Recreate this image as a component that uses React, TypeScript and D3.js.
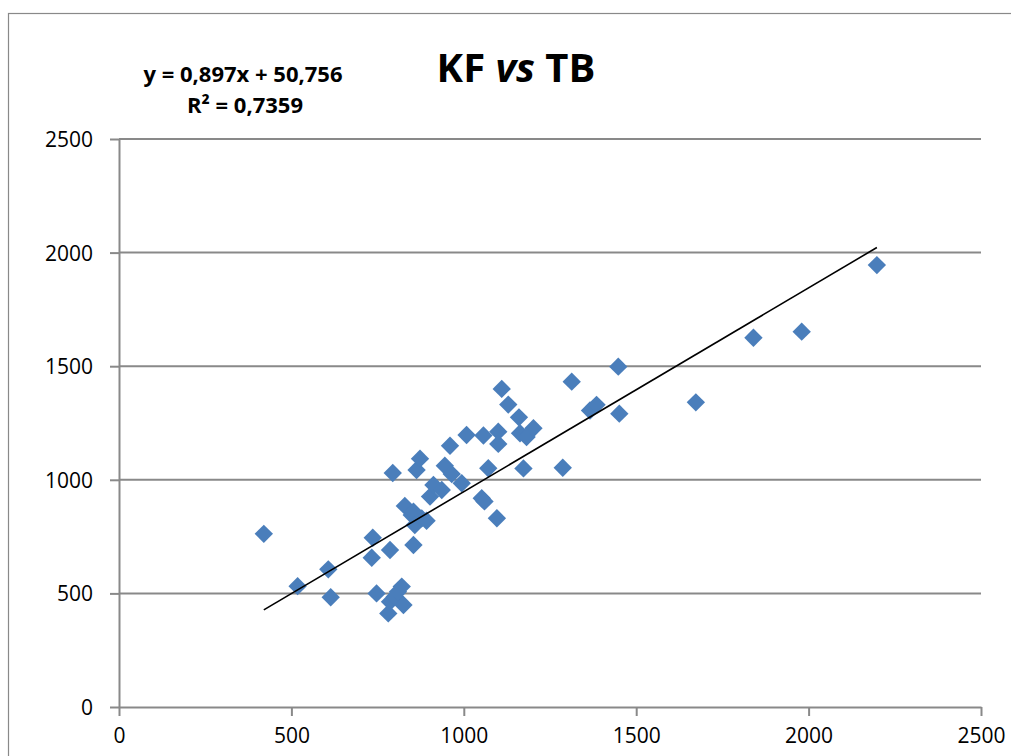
import * as d3 from "d3";
import React, { useEffect, useRef } from "react";

const tbValues = [
  420, 518, 607, 614, 733, 736, 747, 781, 786, 800, 809, 820, 825, 786, 794,
  829, 849, 854, 854, 858, 878, 892, 863, 873, 902, 912, 936, 945, 960, 965,
  994, 1008, 1052, 1060, 1057, 1071, 1096, 1100, 1100, 1110, 1129, 1160, 1163,
  1182, 1202, 1173, 1287, 1313, 1366, 1385, 1448, 1451, 1673, 1840, 1980, 2198,
];
const kfValues = [
  762, 532, 606, 483, 657, 745, 500, 412, 463, 485, 507, 530, 449, 691, 1030,
  885, 845, 860, 713, 801, 830, 820, 1043, 1093, 926, 977, 955, 1062, 1150,
  1025, 985, 1197, 919, 905, 1195, 1051, 831, 1212, 1158, 1400, 1331, 1275,
  1205, 1188, 1227, 1050, 1053, 1432, 1305, 1330, 1498, 1291, 1341, 1625, 1652,
  1945,
];
const xTicks = [0, 500, 1000, 1500, 2000, 2500];
const yTicks = [0, 500, 1000, 1500, 2000, 2500];
const slope = 0.897;
const intercept = 50.756;
const equationLabel = "y = 0,897x + 50,756";
const r2Label = "R² = 0,7359";

const width = 1011;
const height = 756;
const margin = { left: 119, top: 139, right: 30, bottom: 49 };
const font = "'Open Sans', 'DejaVu Sans', sans-serif";
const gray = "#898989";

const App = () => {
  const ref = useRef<SVGSVGElement>(null);

  useEffect(() => {
    const svg = d3.select(ref.current);
    svg.selectAll("*").remove();

    const chartWidth = width - margin.left - margin.right;
    const chartHeight = height - margin.top - margin.bottom;

    // outer chart border
    svg
      .append("rect")
      .attr("x", 8.5)
      .attr("y", 13.5)
      .attr("width", width + 10)
      .attr("height", height + 10)
      .attr("fill", "white")
      .attr("stroke", gray)
      .attr("stroke-width", 1.2);

    const x = d3.scaleLinear().domain([0, 2500]).range([0, chartWidth]);
    const y = d3.scaleLinear().domain([0, 2500]).range([chartHeight, 0]);

    const g = svg
      .append("g")
      .attr("transform", `translate(${margin.left} ${margin.top})`);

    // gridlines
    g.append("g")
      .selectAll("line")
      .data(yTicks.filter((t) => t > 0))
      .join("line")
      .attr("x1", 0)
      .attr("x2", chartWidth)
      .attr("y1", (d) => y(d))
      .attr("y2", (d) => y(d))
      .attr("stroke", gray)
      .attr("stroke-width", 2);

    const yAxis = d3
      .axisLeft(y)
      .tickValues(yTicks)
      .tickFormat(d3.format("d"))
      .tickSize(9)
      .tickPadding(17)
      .tickSizeOuter(0);
    const yAxisG = g.append("g").call(yAxis);
    yAxisG.select(".domain").attr("stroke", gray).attr("stroke-width", 2);
    yAxisG.selectAll(".tick line").attr("stroke", gray).attr("stroke-width", 2);
    yAxisG
      .selectAll(".tick text")
      .attr("fill", "black")
      .attr("font-family", font)
      .attr("font-size", 21)
      .attr("dy", "0.36em");

    const xAxis = d3
      .axisBottom(x)
      .tickValues(xTicks)
      .tickFormat(d3.format("d"))
      .tickSize(9)
      .tickPadding(12)
      .tickSizeOuter(0);
    const xAxisG = g
      .append("g")
      .attr("transform", `translate(0, ${chartHeight})`)
      .call(xAxis);
    xAxisG.select(".domain").attr("stroke", gray).attr("stroke-width", 2);
    xAxisG.selectAll(".tick line").attr("stroke", gray).attr("stroke-width", 2);
    xAxisG
      .selectAll(".tick text")
      .attr("fill", "black")
      .attr("font-family", font)
      .attr("font-size", 21);

    // points
    const points = tbValues.map((tb, i) => ({ tb, kf: kfValues[i] }));
    const diamond = d3.symbol().type(d3.symbolDiamond2).size(215);
    g.append("g")
      .selectAll("path")
      .data(points)
      .join("path")
      .attr("transform", (d) => `translate(${x(d.tb)} ${y(d.kf)})`)
      .attr("d", diamond)
      .attr("fill", "#4A7EBB");

    // linear trend line
    const [x0, x1] = d3.extent(tbValues) as [number, number];
    const line = d3
      .line<number>()
      .x((d) => x(d))
      .y((d) => y(slope * d + intercept));
    g.append("path")
      .attr("d", line([x0, x1]))
      .attr("stroke", "black")
      .attr("stroke-width", 1.6)
      .attr("fill", "none");

    // title
    const title = svg
      .append("text")
      .attr("x", 516)
      .attr("y", 82)
      .attr("text-anchor", "middle")
      .attr("font-family", font)
      .attr("font-weight", "bold")
      .attr("font-size", 40);
    title.append("tspan").text("KF ");
    title.append("tspan").attr("font-style", "italic").text("vs");
    title.append("tspan").text(" TB");

    svg
      .append("text")
      .attr("x", 243)
      .attr("y", 82)
      .attr("text-anchor", "middle")
      .attr("font-family", font)
      .attr("font-weight", "bold")
      .attr("font-size", 22)
      .text(equationLabel);
    svg
      .append("text")
      .attr("x", 245)
      .attr("y", 113)
      .attr("text-anchor", "middle")
      .attr("font-family", font)
      .attr("font-weight", "bold")
      .attr("font-size", 22)
      .text(r2Label);
  }, []);

  return (
    <svg
      ref={ref}
      width={width}
      height={height}
      style={{ position: "absolute", left: 0, top: 0, background: "white" }}
    ></svg>
  );
};

export default App;
